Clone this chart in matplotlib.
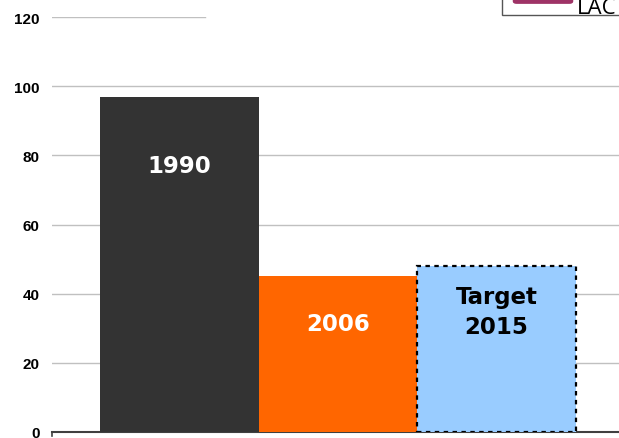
import matplotlib.pyplot as plt
from matplotlib.patches import Rectangle, FancyBboxPatch

labels = ["1990", "2006", "Target\n2015"]
values = [97, 45, 48]
colors = ["#333333", "#FF6600", "#99CCFF"]
label_colors = ["white", "white", "black"]
label_y = [77, 31.5, 34.8]
yticks = [0, 20, 40, 60, 80, 100, 120]

W, H = 619, 439
fig = plt.figure(figsize=(W / 100, H / 100), dpi=100)
ax = fig.add_axes([52 / W, 6 / H, (624 - 52) / W, (433 - 18) / H])

x = list(range(len(values)))
bars = ax.bar(x, values, width=1.0, color=colors, zorder=3)
bars[2].set_edgecolor("black")
bars[2].set_linestyle((0, (2, 2)))
bars[2].set_linewidth(1.6)

for xi, lab, c, yy in zip(x, labels, label_colors, label_y):
    ax.text(xi, yy, lab, ha="center", va="center", color=c,
            fontsize=16.5, fontweight="bold", family="DejaVu Sans",
            linespacing=1.4, zorder=4)

# horizontal gridlines (top one partly hidden in the original)
for t in yticks[1:]:
    xmax = 0.267 if t == 120 else 1.0
    ax.axhline(t, xmin=0, xmax=xmax, color="#C0C0C0", lw=1.0, zorder=1)

ax.set_xlim(-0.804, 2.804)
ax.set_ylim(0, 120)
ax.set_yticks(yticks)
ax.set_yticklabels([str(t) for t in yticks], fontsize=11, fontweight="bold",
                   family="Liberation Sans")
ax.set_xticks([])
for s in ["top", "right", "left"]:
    ax.spines[s].set_visible(False)
ax.spines["bottom"].set_color("#404040")
ax.spines["bottom"].set_linewidth(1.5)
ax.tick_params(axis="y", length=0, pad=9)
ax.plot([0, 0], [0, -0.01], transform=ax.transAxes, color="#404040",
        lw=1.2, clip_on=False)

# legend fragment in the top right corner
fig.patches.append(Rectangle((502 / W, 1 - 16 / H), 0.3, 0.1,
                             transform=fig.transFigure, facecolor="white",
                             edgecolor="#555555", lw=1.0))
fig.patches.append(FancyBboxPatch((514 / W, 1 - 4 / H), 58 / W, 0.05,
                                  boxstyle="round,pad=0.002,rounding_size=0.006",
                                  transform=fig.transFigure,
                                  facecolor="#9E3366", edgecolor="none"))
fig.text(577 / W, 1 - 14 / H, "LAC", fontsize=16, family="Open Sans",
         va="baseline", ha="left")

fig.savefig("out.png", dpi=100)
